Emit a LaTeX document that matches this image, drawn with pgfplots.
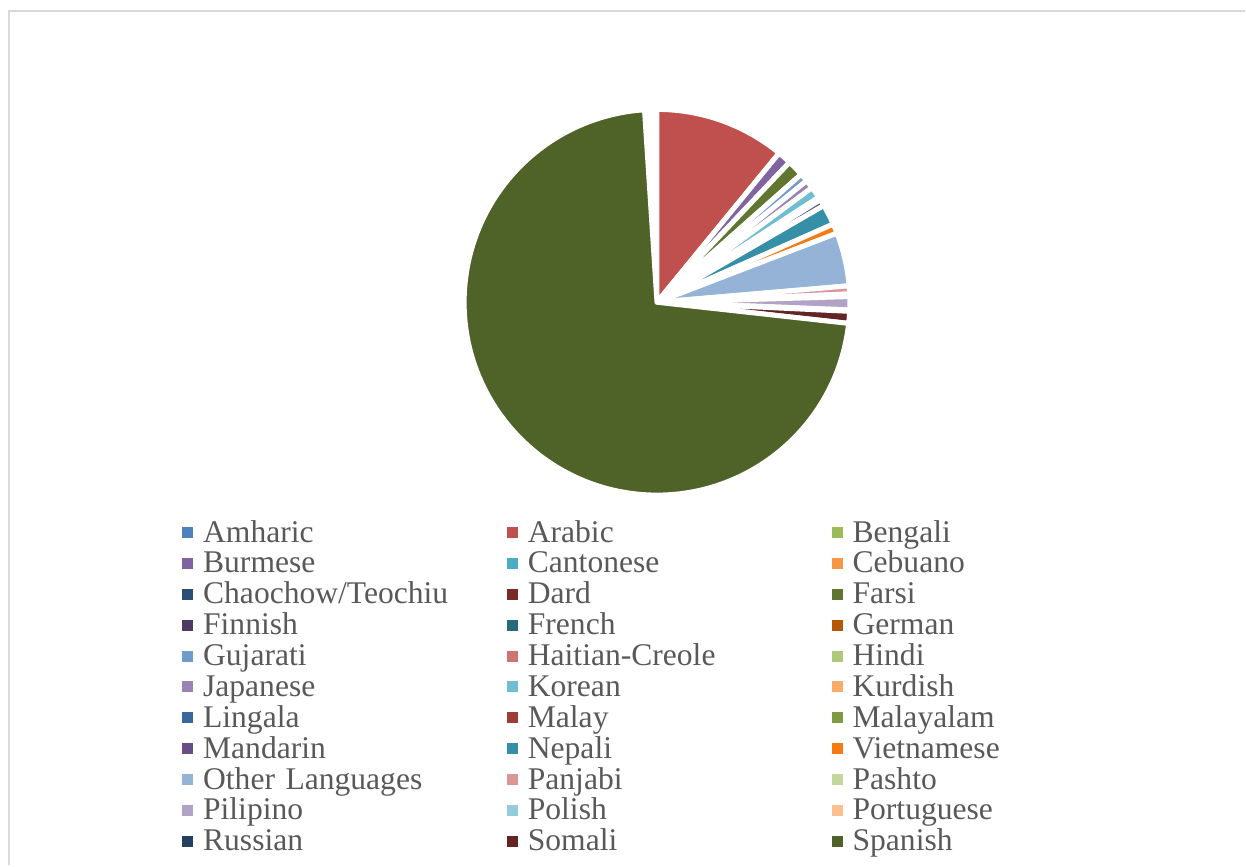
\documentclass[border=0pt]{standalone}
\usepackage{fontspec}
\setmainfont{Liberation Serif}
\usepackage{pgfplots}
\usepackage{pgfplotstable}
\pgfplotsset{compat=1.18}

\definecolor{c01}{HTML}{4F81BD}
\definecolor{c02}{HTML}{C0504D}
\definecolor{c03}{HTML}{9BBB59}
\definecolor{c04}{HTML}{8064A2}
\definecolor{c05}{HTML}{4BACC6}
\definecolor{c06}{HTML}{F79646}
\definecolor{c07}{HTML}{2C4D75}
\definecolor{c08}{HTML}{772C2A}
\definecolor{c09}{HTML}{5F7530}
\definecolor{c10}{HTML}{4D3B62}
\definecolor{c11}{HTML}{276A7C}
\definecolor{c12}{HTML}{B65708}
\definecolor{c13}{HTML}{729ACA}
\definecolor{c14}{HTML}{CD7371}
\definecolor{c15}{HTML}{AFC97A}
\definecolor{c16}{HTML}{9983B5}
\definecolor{c17}{HTML}{6FBDD1}
\definecolor{c18}{HTML}{F9AB6B}
\definecolor{c19}{HTML}{3A679C}
\definecolor{c20}{HTML}{9F3B38}
\definecolor{c21}{HTML}{7E9C3F}
\definecolor{c22}{HTML}{654F83}
\definecolor{c23}{HTML}{348FA7}
\definecolor{c24}{HTML}{F47B12}
\definecolor{c25}{HTML}{95B3D7}
\definecolor{c26}{HTML}{D99694}
\definecolor{c27}{HTML}{C3D69B}
\definecolor{c28}{HTML}{B3A2C7}
\definecolor{c29}{HTML}{93CDDD}
\definecolor{c30}{HTML}{FAC090}
\definecolor{c31}{HTML}{243F60}
\definecolor{c32}{HTML}{632523}
\definecolor{c33}{HTML}{4F6228}
\definecolor{legtext}{HTML}{595959}
\definecolor{framegray}{HTML}{D9D9D9}

% share of each language, percent (clockwise from 12 o'clock)
\pgfplotstableread[col sep=comma]{
name,value,color
Amharic,0,c01
Arabic,10.92,c02
Bengali,0,c03
Burmese,1.15,c04
Cantonese,0,c05
Cebuano,0,c06
Chaochow/Teochiu,0,c07
Dard,0,c08
Farsi,1.38,c09
Finnish,0,c10
French,0,c11
German,0,c12
Gujarati,0.70,c13
Haitian-Creole,0,c14
Hindi,0,c15
Japanese,0.72,c16
Korean,0.97,c17
Kurdish,0.12,c18
Lingala,0,c19
Malay,0,c20
Malayalam,0.12,c21
Mandarin,0.56,c22
Nepali,1.72,c23
Vietnamese,0.81,c24
Other Languages,4.47,c25
Panjabi,0.67,c26
Pashto,0.22,c27
Pilipino,1.11,c28
Polish,0.11,c29
Portuguese,0,c30
Russian,0,c31
Somali,1.00,c32
Spanish,72.22,c33
}\langdata

\begin{document}
\begin{tikzpicture}
\begin{axis}[
  x=0.5pt, y=0.5pt,
  xmin=0, xmax=1246, ymin=0, ymax=866,
  hide axis, clip=false,
  legend columns=3,
  legend cell align=left,
  legend image code/.code={\fill[#1, draw=none] (0pt,-2.75pt) rectangle (5.5pt,2.75pt);},
  legend style={draw=none, fill=none, inner sep=0pt, outer sep=0pt,
    at={(axis cs:182.3,348.5)}, anchor=north west,
    font=\fontsize{15.8}{15.8}\selectfont, text=legtext,
    column sep=0pt, row sep=0pt,
    nodes={inner xsep=5pt, inner ysep=0pt, text width=147pt,
      text height=12.475pt, text depth=2.975pt, align=left}},
]
\pgfplotsextra{%
  \path (axis cs:0,0) rectangle (axis cs:1246,866);
  \draw[color=framegray, line width=1pt] (axis cs:1246,854.5) -- (axis cs:9,854.5) -- (axis cs:9,0);
  \gdef\acc{0}%
  \pgfplotstablegetrowsof{\langdata}%
  \pgfmathtruncatemacro\lastrow{\pgfplotsretval-1}%
  \foreach \i in {0,...,\lastrow}{%
    \pgfplotstablegetelem{\i}{value}\of\langdata \let\val\pgfplotsretval
    \pgfplotstablegetelem{\i}{color}\of\langdata \let\slicecol\pgfplotsretval
    \pgfmathsetmacro\sa{90-3.6*\acc}%
    \pgfmathsetmacro\ea{90-3.6*(\acc+\val)}%
    \ifdim\val pt>0pt
      \path[fill=\slicecol, draw=white, line width=2.5pt, line join=round]
        (axis cs:657.5,563.5) -- ++(\sa:96.5pt)
        arc[start angle=\sa, end angle=\ea, radius=96.5pt] -- cycle;
    \fi
    \pgfmathsetmacro\newacc{\acc+\val}%
    \global\let\acc\newacc
  }%
}
\addlegendimage{fill=c01}\addlegendentry{Amharic}
\addlegendimage{fill=c02}\addlegendentry{Arabic}
\addlegendimage{fill=c03}\addlegendentry{Bengali}
\addlegendimage{fill=c04}\addlegendentry{Burmese}
\addlegendimage{fill=c05}\addlegendentry{Cantonese}
\addlegendimage{fill=c06}\addlegendentry{Cebuano}
\addlegendimage{fill=c07}\addlegendentry{Chaochow/Teochiu}
\addlegendimage{fill=c08}\addlegendentry{Dard}
\addlegendimage{fill=c09}\addlegendentry{Farsi}
\addlegendimage{fill=c10}\addlegendentry{Finnish}
\addlegendimage{fill=c11}\addlegendentry{French}
\addlegendimage{fill=c12}\addlegendentry{German}
\addlegendimage{fill=c13}\addlegendentry{Gujarati}
\addlegendimage{fill=c14}\addlegendentry{Haitian-Creole}
\addlegendimage{fill=c15}\addlegendentry{Hindi}
\addlegendimage{fill=c16}\addlegendentry{Japanese}
\addlegendimage{fill=c17}\addlegendentry{Korean}
\addlegendimage{fill=c18}\addlegendentry{Kurdish}
\addlegendimage{fill=c19}\addlegendentry{Lingala}
\addlegendimage{fill=c20}\addlegendentry{Malay}
\addlegendimage{fill=c21}\addlegendentry{Malayalam}
\addlegendimage{fill=c22}\addlegendentry{Mandarin}
\addlegendimage{fill=c23}\addlegendentry{Nepali}
\addlegendimage{fill=c24}\addlegendentry{Vietnamese}
\addlegendimage{fill=c25}\addlegendentry{Other Languages}
\addlegendimage{fill=c26}\addlegendentry{Panjabi}
\addlegendimage{fill=c27}\addlegendentry{Pashto}
\addlegendimage{fill=c28}\addlegendentry{Pilipino}
\addlegendimage{fill=c29}\addlegendentry{Polish}
\addlegendimage{fill=c30}\addlegendentry{Portuguese}
\addlegendimage{fill=c31}\addlegendentry{Russian}
\addlegendimage{fill=c32}\addlegendentry{Somali}
\addlegendimage{fill=c33}\addlegendentry{Spanish}
\end{axis}
\end{tikzpicture}
\end{document}
